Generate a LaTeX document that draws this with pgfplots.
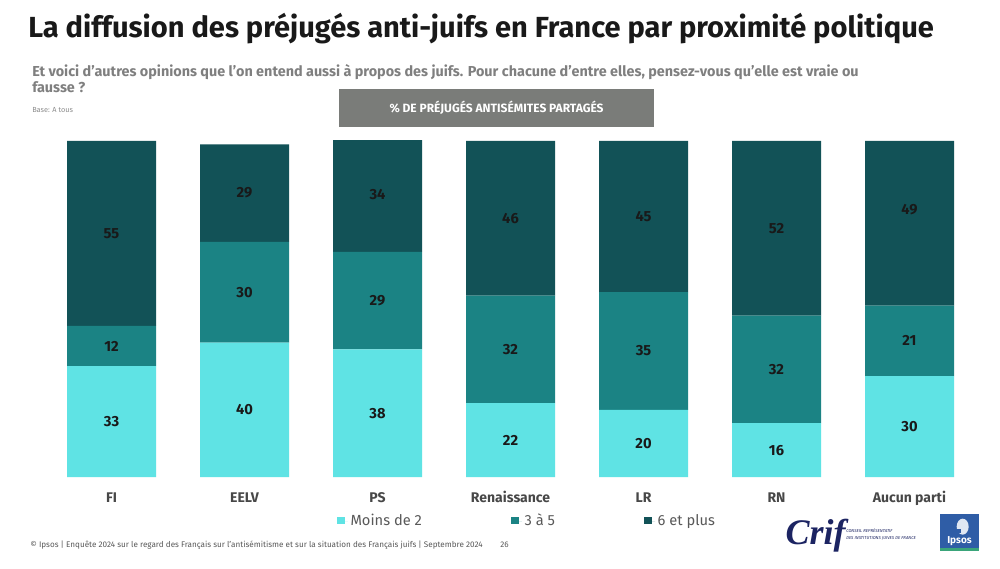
\documentclass[border=0pt]{standalone}
\usepackage{fontspec}
\setmainfont{Fira Sans}
\usepackage{pgfplots}
\pgfplotsset{compat=1.18}
\definecolor{cLight}{HTML}{5FE3E4}
\definecolor{cMid}{HTML}{1B8384}
\definecolor{cDark}{HTML}{125257}
\definecolor{txtgray}{HTML}{595959}
\definecolor{subgray}{HTML}{7F7F7F}
\definecolor{boxgray}{HTML}{7A7C79}
\definecolor{navy}{HTML}{1C2462}
\definecolor{ipsosblue}{HTML}{2F5DA6}
\definecolor{ipsosgreen}{HTML}{3AA57A}
\begin{document}
\begin{tikzpicture}
\path[fill=white] (0pt,0pt) rectangle (750pt,426pt);
% title
\node[anchor=base west,inner sep=0,font=\fontsize{21.8}{24}\selectfont\bfseries,text=black!90] at (21pt,397.5pt) {La diffusion des préjugés anti-juifs en France par proximité politique};
\node[anchor=base west,inner sep=0,font=\fontsize{10.8}{12}\selectfont\bfseries,text=subgray] at (24pt,368.25pt) {Et voici d’autres opinions que l’on entend aussi à propos des juifs. Pour chacune d’entre elles, pensez-vous qu’elle est vraie ou};
\node[anchor=base west,inner sep=0,font=\fontsize{10.8}{12}\selectfont\bfseries,text=subgray] at (24pt,356.25pt) {fausse ?};
\node[anchor=base west,inner sep=0,font=\fontsize{5.5}{6}\selectfont,text=black!45] at (24pt,341.25pt) {Base: A tous};
% gray box
\fill[boxgray] (254.25pt,359.25pt) rectangle (490.5pt,330.75pt);
\node[font=\fontsize{9}{10}\selectfont\bfseries,text=white] at (372.4pt,345pt) {\% DE PRÉJUGÉS ANTISÉMITES PARTAGÉS};
% footer
\node[anchor=base west,inner sep=0,font=\fontsize{6.1}{7}\selectfont,text=txtgray] at (22.5pt,15.75pt) {© Ipsos | Enquête 2024 sur le regard des Français sur l’antisémitisme et sur la situation des Français juifs | Septembre 2024};
\node[anchor=base west,inner sep=0,font=\fontsize{6.1}{7}\selectfont,text=txtgray] at (375pt,15.75pt) {26};
% Crif logo
\node[anchor=base west,inner sep=0,font=\fontspec{Liberation Serif}\fontsize{27}{28}\selectfont\bfseries\itshape,text=navy] at (589pt,18pt) {Crif};
\node[anchor=base west,inner sep=0,font=\fontsize{3.2}{4}\selectfont\itshape,text=navy] at (634.5pt,27pt) {CONSEIL REPRÉSENTATIF};
\node[anchor=base west,inner sep=0,font=\fontsize{3.2}{4}\selectfont\itshape,text=navy] at (634.5pt,21pt) {DES INSTITUTIONS JUIVES DE FRANCE};
% Ipsos logo
\fill[ipsosblue] (705pt,12.75pt) rectangle (734.25pt,40.5pt);
\fill[ipsosgreen] (705pt,12.75pt) rectangle (734.25pt,15pt);
\fill[white!85!ipsosblue] (722pt,31pt) ellipse (4.5pt and 6pt);
\fill[ipsosblue] (717pt,29pt) rectangle (721pt,26pt);
\node[font=\fontsize{7.5}{8}\selectfont\bfseries,text=white,inner sep=0] at (719.6pt,20.5pt) {Ipsos};
% bars
\begin{axis}[
  name=main,
  at={(33.75pt,68.25pt)}, anchor=south west,
  scale only axis, width=698.25pt, height=252pt,
  xmin=-0.5, xmax=6.5, ymin=0, ymax=100,
  ybar stacked, bar width=66.75pt,
  axis line style={draw=none},
  xtick={0,...,6}, xticklabels={FI,EELV,PS,Renaissance,LR,RN,Aucun parti},
  major tick length=0pt, ytick=\empty,
  xticklabel style={anchor=base, yshift=-18.75pt, font=\fontsize{10.5}{12}\selectfont\bfseries, text=black!72},
  clip=true,
  legend columns=3,
  legend style={at={(0.3136,-0.131)}, anchor=west, draw=none, fill=none, inner sep=0pt,
     font=\fontsize{11}{12}\selectfont, text=txtgray,
     /tikz/every even column/.append style={column sep=65pt}},
  legend image code/.code={\fill[#1] (0pt,-2.6pt) rectangle (5.5pt,2.9pt); \path (0pt,0pt) -- (8pt,0pt);},
]
\addplot[fill=cLight, draw=none] coordinates {(0,33) (1,40) (2,38) (3,22) (4,20) (5,16) (6,30)};
\addplot[fill=cMid, draw=none] coordinates {(0,12) (1,30) (2,29) (3,32) (4,35) (5,32) (6,21)};
\addplot[fill=cDark, draw=none] coordinates {(0,55) (1,29) (2,34) (3,46) (4,45) (5,52) (6,49)};
\legend{Moins de 2, 3 à 5, 6 et plus}
\end{axis}
% value labels
\begin{axis}[
  at={(33.75pt,68.25pt)}, anchor=south west,
  scale only axis, width=698.25pt, height=252pt,
  xmin=-0.5, xmax=6.5, ymin=0, ymax=100,
  hide axis, clip=false,
]
\addplot[only marks, mark=none, nodes near coords, point meta=explicit symbolic,
  every node near coord/.append style={anchor=center, font=\fontsize{11}{12}\selectfont\bfseries, text=black!90}]
  table[meta=lab] {
x y lab
0 16.5 33
1 20 40
2 19 38
3 11 22
4 10 20
5 8 16
6 15 30
0 39 12
1 55 30
2 52.5 29
3 38 32
4 37.5 35
5 32 32
6 40.5 21
0 72.5 55
1 84.5 29
2 84 34
3 77 46
4 77.5 45
5 74 52
6 79.5 49
};
\end{axis}
\end{tikzpicture}
\end{document}
